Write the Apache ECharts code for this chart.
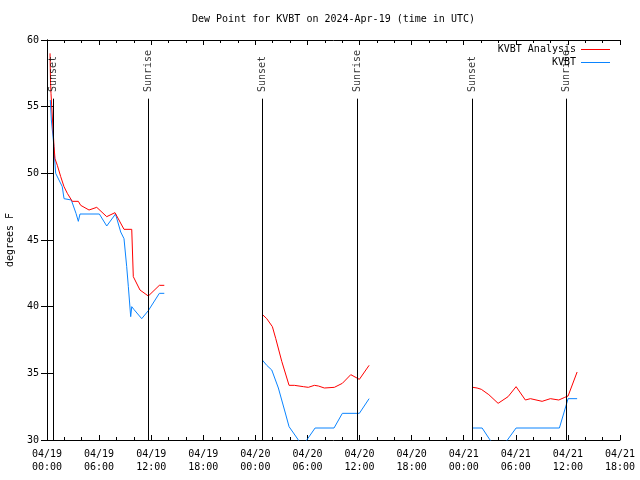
<!DOCTYPE html>
<html>
<head>
<meta charset="utf-8">
<script src="https://cdn.jsdelivr.net/npm/echarts@6/dist/echarts.min.js"></script>
<style>html,body{margin:0;padding:0;background:#fff}#c{width:640px;height:480px}</style>
</head>
<body>
<div id="c"></div>
<script>
// Hours since 2024-04-19 00:00 UTC
const analysisHours = [0.35,0.40,0.46,0.81,0.92,1.19,1.58,1.96,2.34,2.91,3.61,3.88,4.84,5.73,6.88,7.83,8.87,9.76,9.94,10.71,11.67,11.87,12.94,13.51,
  null,
  24.83,25.31,25.96,26.35,27.04,27.88,28.49,29.53,30.10,30.80,31.26,31.95,33.10,34.02,34.99,35.98,37.10,
  null,
  49.04,49.54,50.03,50.89,51.96,53.11,54.03,55.10,55.68,57.03,57.98,58.95,59.64,60.02,61.06];
const analysisValues = [59.0,57.0,56.0,52.0,51.1,50.6,49.75,49.0,48.5,47.9,47.9,47.6,47.25,47.45,46.75,47.05,45.8,45.8,42.25,41.25,40.8,40.7,41.6,41.6,
  null,
  39.4,39.1,38.5,37.6,35.9,34.1,34.1,34.0,33.95,34.1,34.05,33.9,33.95,34.25,34.9,34.55,35.6,
  null,
  33.95,33.9,33.8,33.4,32.75,33.25,34.0,33.0,33.1,32.9,33.1,33.0,33.2,33.3,35.1];

const obsHours = [0.38,0.50,0.73,1.00,1.38,1.76,1.96,2.80,3.34,3.61,3.80,6.03,6.88,7.89,8.49,8.87,9.18,9.37,9.64,9.76,10.00,10.91,11.67,12.94,13.51,
  null,
  24.80,25.31,25.89,26.65,27.42,27.88,28.88,29.40,30.03,30.88,33.06,34.02,35.98,37.10,
  null,
  49.04,50.12,50.96,52.07,53.11,54.03,59.02,60.02,61.06];
const obsValues = [55.5,54.0,52.5,50.0,49.5,49.0,48.1,48.0,47.0,46.4,46.95,46.95,46.05,46.95,45.6,45.1,43.0,41.5,39.25,40.0,39.8,39.1,39.7,41.0,41.0,
  null,
  36.0,35.6,35.25,33.9,32.1,31.0,30.07,29.5,30.1,30.9,30.9,32.0,32.0,33.1,
  null,
  30.9,30.9,30.07,29.2,30.07,30.9,30.9,33.1,33.1];

const sunEventHours = [0.69, 11.69, 24.82, 35.75, 49.02, 59.83];
const sunEventNames = ['Sunset','Sunrise','Sunset','Sunrise','Sunset','Sunrise'];

const dayLabels = ['04/19','04/20','04/21'];
const yTicks = [30,35,40,45,50,55,60];

const seriesNames = ['KVBT Analysis','KVBT'];
const titleText = 'Dew Point for KVBT on 2024-Apr-19 (time in UTC)';
const yName = 'degrees F';

function pairs(hs, vs){
  const out = [];
  for (let i = 0; i < hs.length; i++) {
    if (hs[i] === null) out.push([ (hs[i-1]+hs[i+1])/2, null ]);
    else out.push([hs[i], vs[i]]);
  }
  return out;
}
function fmtX(v){
  const d = Math.floor(v/24);
  const h = Math.round(v - d*24);
  return dayLabels[Math.min(d, dayLabels.length-1)] + '\n' + String(h).padStart(2,'0') + ':00';
}

const FONT = 'DejaVu Sans Mono';
const chart = echarts.init(document.getElementById('c'), null, {renderer:'canvas'});
const xCommon = {
  type:'value', min:0, max:66, interval:6,
  axisLine:{show:true, lineStyle:{color:'#000', width:1}},
  axisTick:{show:true, inside:true, length:5, lineStyle:{color:'#000'}},
  minorTick:{show:true, splitNumber:3, length:3, lineStyle:{color:'#000'}},
  splitLine:{show:false}
};
const yCommon = {
  type:'value', min:yTicks[0], max:yTicks[yTicks.length-1], interval:5,
  axisLine:{show:true, lineStyle:{color:'#000', width:1}},
  axisTick:{show:true, inside:true, length:6, lineStyle:{color:'#000'}},
  splitLine:{show:false}
};
chart.setOption({
  animation:false,
  backgroundColor:'#fff',
  title:{text:titleText, left:192, top:14, padding:0,
    textStyle:{fontFamily:FONT, fontSize:10, fontWeight:'normal', color:'#000'}},
  legend:{
    data:[{name:seriesNames[0], icon:'rect'},{name:seriesNames[1], icon:'rect'}],
    orient:'vertical', align:'right', right:30, top:43, padding:0, itemWidth:29, itemHeight:1, itemGap:0,
    textStyle:{fontFamily:FONT, fontSize:10, color:'#000', lineHeight:13}
  },
  grid:{left:47, right:20, top:40, bottom:40, containLabel:false, outerBoundsMode:'none'},
  xAxis:[
    Object.assign({}, xCommon, {position:'bottom',
      axisLabel:{show:true, formatter:fmtX, margin:8, fontFamily:FONT, fontSize:10, color:'#000', lineHeight:13}}),
    Object.assign({}, xCommon, {position:'top', axisLabel:{show:false}})
  ],
  yAxis:[
    Object.assign({}, yCommon, {position:'left', name:yName, nameLocation:'middle', nameRotate:90, nameGap:32,
      nameTextStyle:{fontFamily:FONT, fontSize:10, color:'#000'},
      axisLabel:{show:true, margin:8, fontFamily:FONT, fontSize:10, color:'#000'}}),
    Object.assign({}, yCommon, {position:'right', axisLabel:{show:false}})
  ],
  series:[
    {name:seriesNames[0], type:'line', data:pairs(analysisHours, analysisValues), showSymbol:false, symbol:'none',
      connectNulls:false, clip:true, color:'#ff0000', lineStyle:{color:'#ff0000', width:1}, z:3},
    {name:seriesNames[1], type:'line', data:pairs(obsHours, obsValues), showSymbol:false, symbol:'none',
      connectNulls:false, clip:true, color:'#0a84ff', lineStyle:{color:'#0a84ff', width:1}, z:2},
    {name:'sun', type:'scatter', symbolSize:1, itemStyle:{color:'rgba(0,0,0,0)'}, z:5, silent:true,
      data: sunEventHours.map((t,i)=>[t, 56.1, sunEventNames[i]]),
      label:{show:true, position:'inside', rotate:90, align:'left', verticalAlign:'middle',
        formatter:p=>p.data[2], fontFamily:FONT, fontSize:10, color:'#000'},
      labelLayout:{hideOverlap:false},
      markLine:{silent:true, symbol:['none','none'], animation:false,
        lineStyle:{color:'#000', width:1, type:'solid'}, label:{show:false},
        data: sunEventHours.map(t=>[{coord:[t,30]},{coord:[t,55.6]}])}
    }
  ]
});
</script>
</body>
</html>
